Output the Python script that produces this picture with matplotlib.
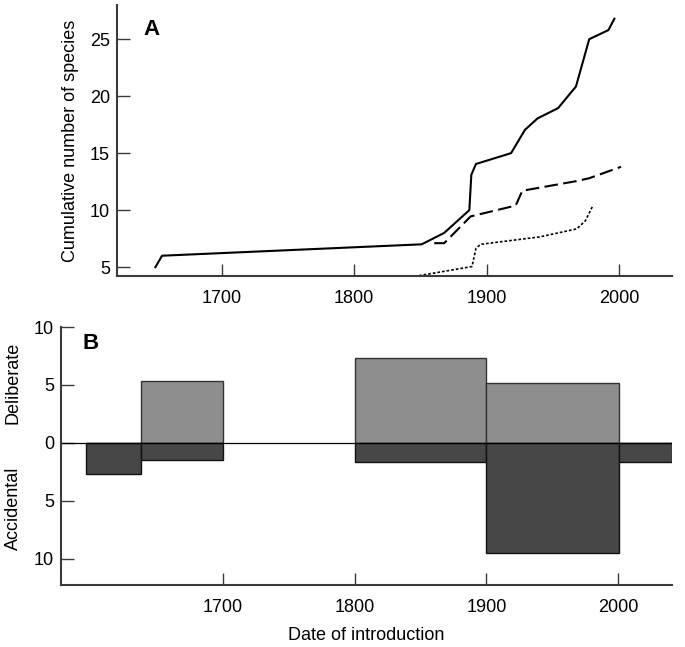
import numpy as np
import matplotlib as mpl
mpl.use('Agg')
import matplotlib.pyplot as plt

plt.rcParams['font.family'] = ['Liberation Sans', 'DejaVu Sans']

# panel A: cumulative number of species
all_year = [1650, 1655, 1851, 1868, 1887, 1888.5, 1892, 1918.5, 1929, 1938.5,
            1954, 1967.5, 1977.5, 1992, 1996.5]
all_count = [5.0, 6.0, 7.0, 8.0, 10.0, 13.1, 14.05, 15.0, 17.05, 18.05,
             18.95, 20.85, 25.0, 25.8, 26.8]

delib_year = [1860.5, 1868, 1888, 1922, 1927, 1968, 1977.5, 2001.5]
delib_count = [7.1, 7.1, 9.45, 10.4, 11.7, 12.55, 12.8, 13.8]

accid_year = [1849, 1889, 1892, 1895.5, 1940, 1968, 1974.5, 1980.5]
accid_count = [4.25, 5.05, 6.65, 7.0, 7.65, 8.35, 9.05, 10.45]

# panel B: species per period
bin_left = [1596, 1638, 1800, 1900, 2001]
bin_right = [1638, 1700, 1900, 2001, 2041]
deliberate = [0, 5.3, 7.3, 5.2, 0]
accidental = [2.7, 1.5, 1.65, 9.5, 1.65]

fig = plt.figure(figsize=(6.85, 6.47), dpi=100)
fs = 13
spine_c = '#3a3a3a'

axA = fig.add_axes([117 / 685, 1 - 276 / 647, 555 / 685, 271 / 647])
axA.plot(all_year, all_count, color='black', lw=1.5)
axA.plot(delib_year, delib_count, color='black', lw=1.5, linestyle=(0, (6.5, 2.6)))
axA.plot(accid_year, accid_count, color='black', lw=1.2, linestyle=(0, (1.6, 1.2)))
axA.set_xlim(1621, 2040)
axA.set_ylim(4.22, 28)
axA.set_xticks([1700, 1800, 1900, 2000])
axA.set_yticks([5, 10, 15, 20, 25])
axA.set_ylabel('Cumulative number of species', fontsize=fs)
axA.yaxis.set_label_coords(-0.068, 0.5)
axA.text(0.047, 0.95, 'A', transform=axA.transAxes, fontsize=16,
         fontweight='bold', va='top')

axB = fig.add_axes([61 / 685, 1 - 585 / 647, 611 / 685, 258 / 647])
widths = np.array(bin_right) - np.array(bin_left)
axB.bar(bin_left, deliberate, width=widths, align='edge', color='#8e8e8e',
        edgecolor='#333333', linewidth=1.0)
axB.bar(bin_left, -np.array(accidental), width=widths, align='edge',
        color='#474747', edgecolor='#111111', linewidth=1.0)
axB.axhline(0, color='black', lw=0.9)
axB.set_xlim(1577, 2041)
axB.set_ylim(-12.25, 10)
axB.set_xticks([1700, 1800, 1900, 2000])
axB.set_yticks([10, 5, 0, -5, -10])
axB.set_yticklabels(['10', '5', '0', '5', '10'])
axB.set_xlabel('Date of introduction', fontsize=fs, labelpad=8)
axB.text(0.035, 0.975, 'B', transform=axB.transAxes, fontsize=16,
         fontweight='bold', va='top')
fig.text(13 / 685, 1 - 383 / 647, 'Deliberate', rotation=90, fontsize=fs,
         ha='center', va='center')
fig.text(13 / 685, 1 - 508 / 647, 'Accidental', rotation=90, fontsize=fs,
         ha='center', va='center')

for ax in (axA, axB):
    ax.spines['top'].set_visible(False)
    ax.spines['right'].set_visible(False)
    for s in ('left', 'bottom'):
        ax.spines[s].set_color(spine_c)
        ax.spines[s].set_linewidth(1.5)
    ax.tick_params(direction='in', length=9, width=1.0, color=spine_c,
                   labelsize=fs)
    ax.tick_params(axis='x', pad=10)
    ax.tick_params(axis='y', pad=5)

fig.savefig('out.png', dpi=100)
